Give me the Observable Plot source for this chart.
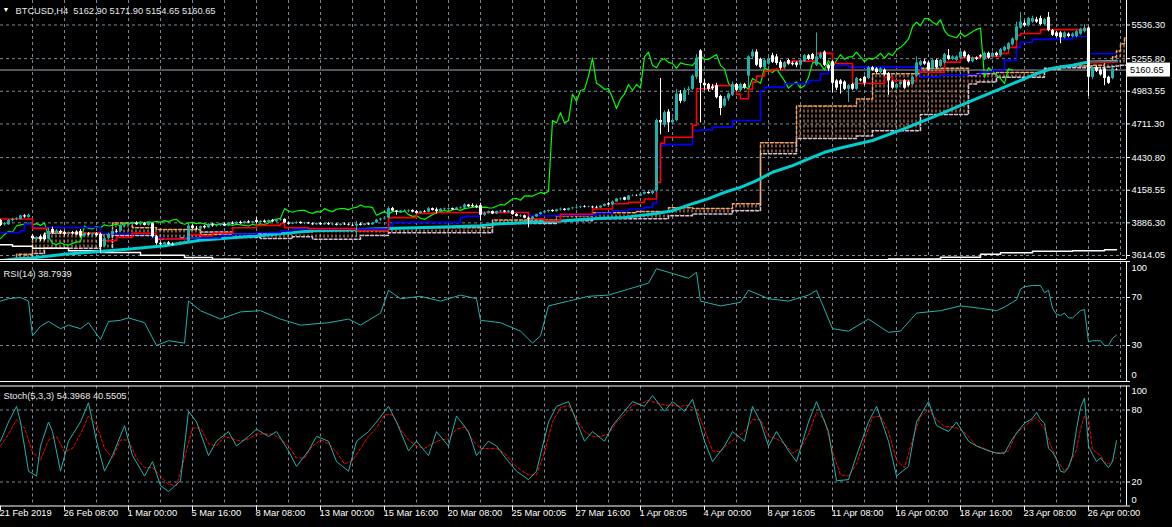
<!DOCTYPE html>
<html><head><meta charset="utf-8">
<script src="https://cdn.jsdelivr.net/npm/d3@7"></script>
<script src="https://cdn.jsdelivr.net/npm/@observablehq/plot@0.6"></script>
<style>
html,body{margin:0;padding:0;background:#000;}
#wrap{position:relative;width:1172px;height:527px;background:#000;overflow:hidden;}
#wrap>div{position:absolute;left:0;}
svg{display:block;}
</style></head><body>
<div id="wrap"><div id="main" style="top:0px"></div><div id="rsi" style="top:260px"></div><div id="sto" style="top:383px"></div></div>
<script>
// ---------- DATA ----------
const symbolTitle = "BTCUSD,H4";
const O = [3905,3870,3870,3905,3915,3915,3945,3930, 3775,3745,3770,3785,3750,3830,3795,3815, 3805,3790,3805,3810,3815,3775,3795,3785, 3795,3790,3690,3755,3790,3815,3815,3860, 3870,3875,3885,3870,3880,3865,3880,3770, 3715,3705,3720,3705,3700,3715,3725,3725, 3860,3840,3835,3855,3845,3870,3860,3865, 3875,3860,3885,3875,3890,3880,3895,3885, 3905,3890,3900,3890,3905,3895,3910,3915, 3885,3875,3885,3890,3880,3885,3878,3870, 3880,3870,3880,3870,3875,3865,3875,3870, 3865,3860,3875,3865,3878,3870,3885,3910, 3918,3925,4005,3985,3970,3985,3985,3990, 3980,3965,3980,3975,4005,3995,3980,4000, 4000,4005,3995,4010,4010,4035,4030,4025, 4030,3950,3965,3980,3960,3980,3985,3975, 3985,3955,3940,3945,3925,3915,3935,3955, 3970,3980,3990,3980,3995,4000,3990,4005, 4010,4015,4020,4015,4018,4015,4010,4025, 4045,4035,4060,4085,4095,4075,4110,4112, 4110,4125,4140,4130,4150,4740,4700,4810, 4720,4740,4960,4900,4990,5000,5100,5320, 5050,5040,5020,5030,4940,4860,4920,4950, 5040,4990,5040,5110,5270,5310,5250,5180, 5210,5280,5270,5225,5180,5240,5215,5220, 5200,5230,5280,5290,5200,5260,5310,5200, 5230,5070,5070,5060,5000,5040,5000,5080, 5100,5090,5180,5170,5140,5160,5130,5060, 5010,5040,5070,5060,5040,5110,5200,5230, 5220,5170,5240,5190,5220,5280,5250,5240, 5260,5310,5280,5230,5260,5280,5250,5300, 5270,5300,5280,5320,5330,5370,5410,5510, 5550,5530,5560,5580,5590,5540,5600,5490, 5470,5470,5430,5460,5440,5440,5460,5480, 5510,5100,5180,5160,5170,5100,5090,5162.90];
const H = [3915,3890,3915,3925,3930,3950,3955,3960, 3790,3770,3785,3800,3840,3850,3830,3825, 3815,3810,3815,3820,3830,3800,3805,3800, 3805,3800,3770,3800,3830,3830,3870,3875, 3885,3890,3895,3885,3890,3890,3885,3780, 3725,3725,3730,3720,3720,3730,3735,3880, 3870,3855,3860,3865,3880,3880,3870,3880, 3885,3890,3895,3895,3900,3900,3905,3900, 3930,3905,3910,3910,3915,3915,3925,3920, 3895,3890,3895,3895,3890,3890,3885,3885, 3890,3885,3890,3880,3880,3880,3885,3880, 3875,3900,3885,3880,3885,3890,3915,3925, 3930,4020,4015,3990,3990,3995,3995,3995, 3990,3985,3990,4015,4010,4010,4005,4010, 4010,4010,4015,4020,4045,4040,4045,4035, 4050,3975,3985,3985,3985,3990,3990,3990, 3990,3965,3955,3950,3935,3940,3960,3975, 3985,3995,3995,4000,4010,4005,4010,4015, 4020,4025,4030,4025,4025,4025,4030,4045, 4055,4070,4090,4095,4100,4115,4120,4120, 4130,4145,4145,4160,4750,5090,4820,4830, 4760,5000,4990,5010,5020,5120,5290,5330, 5080,5050,5040,5050,4950,4940,4970,5060, 5050,5050,5050,5280,5330,5330,5260,5250, 5270,5300,5290,5240,5230,5250,5230,5230, 5250,5290,5290,5300,5470,5310,5320,5210, 5240,5080,5080,5070,5040,5050,5100,5090, 5110,5190,5190,5180,5180,5170,5140,5070, 5050,5070,5080,5070,5110,5270,5240,5250, 5230,5250,5250,5250,5300,5330,5280,5280, 5330,5320,5290,5270,5270,5290,5310,5310, 5310,5310,5340,5360,5390,5430,5560,5640, 5570,5600,5610,5600,5610,5590,5640,5500, 5480,5480,5480,5470,5470,5490,5510,5540, 5520,5190,5190,5170,5180,5110,5180,5171.90];
const L = [3855,3860,3865,3895,3905,3910,3925,3925, 3740,3735,3730,3735,3745,3790,3790,3790, 3780,3780,3785,3780,3760,3770,3775,3770, 3770,3630,3680,3745,3785,3800,3810,3845, 3860,3865,3865,3860,3860,3860,3760,3700, 3695,3700,3700,3695,3695,3705,3710,3720, 3830,3825,3830,3835,3840,3850,3850,3855, 3855,3855,3870,3870,3875,3875,3880,3880, 3880,3885,3885,3885,3890,3890,3900,3880, 3870,3870,3875,3875,3870,3875,3865,3865, 3865,3865,3865,3860,3860,3860,3865,3860, 3855,3765,3860,3860,3865,3865,3880,3900, 3910,3920,3980,3950,3965,3975,3970,3970, 3960,3960,3970,3970,3985,3960,3975,3985, 3990,3990,3990,4000,4005,4015,4015,4005, 3900,3940,3960,3955,3955,3970,3970,3970, 3950,3935,3930,3920,3845,3905,3930,3950, 3960,3970,3975,3975,3985,3985,3985,3995, 4000,4005,4010,4010,4005,4005,4005,4020, 4030,4030,4055,4070,4070,4070,4105,4105, 4105,4120,4125,4120,4140,4620,4680,4640, 4700,4730,4880,4890,4950,4990,5080,4720, 4990,4980,4990,4920,4780,4850,4900,4940, 4980,4980,5000,5010,5250,5190,5170,5170, 5200,5215,5200,5160,5170,5200,5195,5180, 5190,5225,5240,5240,5190,5250,5190,5150, 4970,4990,4960,4990,4890,4990,4990,5060, 5030,5080,5150,5130,5130,5110,4950,5000, 5000,5030,5000,5020,5030,5100,5190,5200, 5150,5160,5170,5180,5210,5240,5240,5230, 5250,5260,5220,5220,5240,5260,5240,5250, 5260,5270,5270,5310,5320,5360,5400,5500, 5520,5520,5550,5550,5530,5530,5480,5440, 5430,5380,5420,5430,5430,5430,5450,5470, 4940,5080,5140,5110,5030,5040,5080,5154.65];
const C = [3865,3880,3905,3915,3920,3945,3935,3950, 3755,3765,3745,3745,3815,3800,3820,3800, 3790,3805,3795,3785,3775,3795,3785,3795, 3780,3680,3755,3790,3815,3810,3860,3870, 3875,3885,3870,3880,3865,3885,3770,3715, 3705,3720,3705,3700,3715,3725,3730,3860, 3840,3835,3855,3845,3870,3860,3865,3875, 3860,3885,3875,3890,3880,3895,3885,3895, 3890,3900,3890,3905,3895,3910,3915,3885, 3875,3885,3890,3880,3885,3878,3870,3880, 3870,3880,3870,3875,3865,3875,3870,3865, 3860,3875,3865,3878,3870,3885,3910,3918, 3925,4005,3985,3975,3985,3990,3990,3975, 3965,3980,3975,4005,3990,3980,4000,4005, 4005,3995,4010,4015,4035,4020,4020,4015, 3950,3965,3980,3960,3980,3985,3975,3985, 3955,3940,3945,3925,3915,3935,3955,3970, 3980,3990,3980,3995,4000,3990,4005,4010, 4015,4020,4015,4018,4012,4010,4025,4040, 4035,4060,4085,4090,4075,4110,4112,4110, 4125,4140,4130,4150,4740,4720,4805,4720, 4740,4960,4900,4990,5000,5110,5260,5050, 5030,5000,5005,4930,4840,4920,4960,5040, 4990,5040,5010,5270,5310,5200,5180,5240, 5255,5225,5215,5175,5220,5210,5205,5200, 5240,5280,5250,5250,5270,5290,5200,5170, 5050,5010,5040,5000,5030,5000,5090,5070, 5050,5180,5160,5140,5170,5120,5070,5010, 5040,5060,5010,5030,5100,5220,5230,5210, 5160,5240,5180,5240,5290,5250,5270,5270, 5310,5270,5230,5260,5250,5270,5300,5260, 5300,5280,5330,5350,5380,5420,5520,5560, 5530,5590,5590,5560,5540,5580,5490,5450, 5440,5430,5470,5440,5460,5480,5500,5510, 5100,5180,5150,5120,5090,5050,5170,5160.65];

// Ichimoku lines: [bar, value]
const tenkan = [[0,3918],[8,3840],[12,3812],[16,3800],[25,3738],[29,3765],[33,3800],[39,3752],[47,3788],[50,3778],[53,3800],[58,3845],[64,3865],[70,3880],[71,3845],[77,3838],[89,3822],[97,3930],[104,3965],[108,3973],[132,3920],[136,3905],[140,3958],[148,4002],[153,4045],[157,4057],[161,4085],[164,4224],[165,4550],[166,4600],[173,4700],[174,5005],[178,5031],[184,4960],[185,4921],[187,5000],[188,5060],[189,5110],[191,5150],[193,5165],[196,5225],[198,5235],[204,5300],[208,5215],[213,5048],[221,5100],[223,5074],[229,5143],[236,5227],[240,5263],[245,5275],[250,5300],[252,5350],[254,5450],[255,5466],[260,5498],[272,5227],[279,5227]];
const kijun = [[0,3806],[5,3820],[6,3876],[8,3848],[25,3795],[38,3760],[41,3750],[46,3760],[55,3780],[58,3792],[64,3806],[70,3820],[73,3834],[97,3862],[98,3890],[115,3932],[116,3940],[120,3965],[121,3973],[132,3946],[139,3950],[149,3965],[153,3987],[157,4002],[161,4015],[163,4050],[164,4350],[165,4531],[166,4539],[173,4656],[175,4662],[178,4684],[183,4740],[190,4990],[191,5018],[196,5046],[202,5074],[205,5130],[207,5186],[209,5200],[212,5185],[230,5102],[235,5116],[241,5124],[245,5143],[248,5158],[251,5241],[254,5350],[255,5392],[258,5416],[268,5441],[272,5297],[279,5297]];
const cloudBar = [0,4,8,11,25,28,33,39,45,50,58,65,73,78,90,97,123,139,148,159,167,173,183,190,199,214,218,230,242,244,249,261,265,273,276,278,279,280,281,282];
const spanA = [3570,3625,3760,3800,3790,3885,3845,3830,3830,3790,3795,3795,3810,3820,3820,3845,3910,3946,3970,3980,4013,4005,4046,4555,4860,4920,5130,5175,5115,5130,5140,5165,5195,5200,5230,5270,5320,5380,5430,5470];
const spanB = [3540,3560,3630,3675,3650,3780,3780,3750,3760,3810,3765,3755,3770,3750,3780,3803,3880,3904,3920,3920,3946,3960,3987,4463,4590,4610,4655,4790,5045,5060,5100,5175,5180,5180,5185,5190,5195,5200,5200,5200];
const chikouShift = 26;
// moving averages: [bar, value]
const maCyan = [[0,3570],[4,3586],[8,3594],[16,3624],[24,3645],[33,3670],[41,3695],[46,3720],[50,3741],[58,3762],[66,3783],[74,3808],[78,3820],[86,3826],[97,3840],[106,3848],[115,3856],[120,3862],[124,3876],[128,3884],[136,3895],[141,3904],[148,3920],[156,3932],[164,3965],[168,3987],[173,4046],[177,4088],[181,4140],[185,4182],[189,4238],[193,4308],[198,4364],[202,4420],[206,4475],[210,4510],[218,4573],[226,4672],[234,4781],[243,4907],[251,5018],[259,5130],[263,5175],[268,5200],[272,5227],[279,5235]];
const maWhite = [[0,3703],[3,3692],[8,3675],[17,3653],[25,3639],[35,3617],[46,3597],[53,3582],[60,3570],[215,3570],[222,3585],[235,3600],[245,3625],[250,3636],[258,3649],[268,3653],[276,3661],[279,3661]];
// oscillators: [bar, value]
const rsi = [[0,67],[2,69],[5,70],[7,67],[8,38],[10,46],[12,50],[15,44],[17,47],[20,44],[22,49],[25,35],[27,50],[30,51],[32,53],[36,49],[39,30],[42,34],[46,32],[47,67],[50,59],[55,52],[60,58],[65,59],[70,52],[75,47],[82,49],[87,52],[90,47],[95,57],[97,76],[100,69],[105,71],[110,67],[115,72],[119,69],[120,51],[125,49],[130,42],[133,32],[135,38],[137,63],[142,67],[147,71],[152,72],[157,77],[162,82],[164,94],[167,91],[172,86],[174,91],[175,67],[180,63],[185,66],[187,76],[192,69],[197,67],[202,72],[204,76],[208,44],[212,42],[217,52],[222,41],[225,42],[229,57],[235,59],[240,63],[245,61],[249,59],[251,62],[253,66],[254,68],[255,77],[256,79],[258,80],[260,80],[261,74],[262,76],[263,61],[264,56],[265,55],[266,57],[267,53],[268,53],[269,56],[270,59],[271,60],[272,33],[273,34],[274,34],[275,34],[276,30],[277,30],[278,36],[279,38.7939]];
const stochMain = [[0,54],[2,70],[4,83],[5,70],[7,29],[9,25],[10,50],[12,70],[13,62],[15,29],[17,54],[20,70],[22,86],[24,54],[26,29],[28,42],[31,67],[33,42],[36,25],[38,37],[40,17],[42,12],[45,21],[47,79],[49,70],[52,42],[54,54],[57,62],[59,50],[62,58],[64,64],[67,58],[69,62],[72,46],[74,33],[77,46],[79,58],[82,54],[84,37],[87,29],[89,54],[92,62],[94,70],[97,83],[99,70],[102,46],[104,54],[107,42],[109,62],[112,50],[114,75],[117,62],[119,42],[122,54],[124,50],[127,37],[129,29],[132,22],[134,29],[137,70],[139,83],[142,87],[143,79],[146,54],[148,62],[151,54],[153,67],[156,79],[158,87],[161,83],[163,92],[166,79],[168,87],[171,79],[173,89],[176,54],[178,37],[181,50],[183,62],[186,54],[188,83],[190,70],[192,50],[194,62],[197,46],[199,37],[202,70],[204,87],[207,62],[209,21],[212,22],[214,42],[217,70],[219,83],[222,54],[224,25],[227,33],[229,70],[232,87],[234,67],[237,62],[239,70],[242,54],[244,50],[247,46],[249,44],[251,44],[253,56],[255,65],[256,69],[258,73],[259,78],[260,72],[261,69],[262,48],[263,45],[264,39],[265,29],[266,28],[267,32],[268,42],[269,64],[270,82],[271,90],[272,50],[273,43],[274,37],[275,40],[276,36],[277,32],[278,37],[279,54.3968]];
const stochSignal = [[0,50],[2,60],[4,72],[6,65],[8,45],[10,38],[12,55],[14,58],[16,45],[18,48],[20,60],[22,75],[24,68],[26,48],[28,40],[30,55],[32,55],[34,40],[36,32],[38,32],[40,25],[42,18],[44,17],[46,40],[48,65],[50,65],[52,52],[54,50],[56,58],[58,56],[60,54],[62,56],[64,60],[66,60],[68,60],[70,56],[72,50],[74,40],[76,40],[78,50],[80,55],[82,52],[84,45],[86,35],[88,38],[90,48],[92,58],[94,65],[96,76],[98,76],[100,64],[102,55],[104,50],[106,48],[108,52],[110,55],[112,56],[114,64],[116,66],[118,55],[120,48],[122,48],[124,48],[126,44],[128,36],[130,30],[132,26],[134,26],[136,45],[138,70],[140,82],[142,84],[144,72],[146,62],[148,58],[150,58],[152,60],[154,70],[156,76],[158,84],[160,85],[162,88],[164,86],[166,84],[168,84],[170,83],[172,84],[174,80],[176,64],[178,46],[180,45],[182,52],[184,57],[186,62],[188,72],[190,72],[192,58],[194,56],[196,52],[198,44],[200,48],[202,60],[204,78],[206,72],[208,45],[210,26],[212,25],[214,35],[216,55],[218,74],[220,75],[222,62],[224,38],[226,32],[228,55],[230,75],[232,80],[234,72],[236,66],[238,66],[240,64],[242,58],[244,50],[246,48],[248,45],[250,44],[252,46],[254,61],[257,69],[259,74],[261,64],[263,47],[264,39],[266,29],[267,33],[269,47],[270,64],[271,75],[272,72],[273,47],[275,42],[276,36],[277,35],[278,38],[279,40.5505]];
// axis labels
const priceTicks = [5536.30, 5255.80, 4983.55, 4711.30, 4430.80, 4158.55, 3886.30, 3614.05];
const rsiLevels = [70, 30];
const rsiTickLabels = ["100", "70", "30", "0"];
const stochLevels = [80, 20];
const stochTickLabels = ["100", "80", "20", "0"];
const timeLabels = ["21 Feb 2019","26 Feb 08:00","1 Mar 00:00","5 Mar 16:00","8 Mar 08:00","13 Mar 00:00","15 Mar 16:00","20 Mar 08:00","25 Mar 00:05","27 Mar 16:00","1 Apr 08:05","4 Apr 00:00","8 Apr 16:05","11 Apr 08:00","16 Apr 00:00","18 Apr 16:00","23 Apr 08:00","26 Apr 00:00"];
const barsPerLabel = 16;

// ---------- DRAWING ----------
const FONT = "'Liberation Sans', Arial, sans-serif";
const XMIN = 0, XMAX = 281.5;
const TEAL = "#20B2AA", GRID = "#778899", WHITE = "#FFFFFF";
const style = {background: "transparent", color: WHITE, fontFamily: FONT, fontSize: "9.3px", overflow: "visible"};
const dash = "3,3";
const gridBars = d3.range(8, 281, 8);
const labelBars = timeLabels.map((d, i) => i * barsPerLabel);
const pairs = arr => arr.map(([bar, v]) => ({bar, v}));

const n = C.length;
const candles = C.map((c, i) => ({i, o: O[i], h: H[i], l: L[i], c, up: c >= O[i]}));
const cloud = cloudBar.map((b, k) => ({bar: b, a: spanA[k], b: spanB[k]}));
const chikou = C.slice(chikouShift).map((v, i) => ({bar: i, v}));
const last = candles[n - 1];
const fmt = v => v.toFixed(2);

const mainPlot = Plot.plot({
  width: 1172, height: 260, marginTop: 0, marginBottom: 1, marginLeft: 0, marginRight: 46,
  x: {domain: [XMIN, XMAX], axis: null},
  y: {domain: [3580.7, 5740.6], axis: null},
  style,
  marks: [
    Plot.ruleY(priceTicks, {stroke: GRID, strokeDasharray: dash}),
    Plot.ruleX(gridBars, {stroke: GRID, strokeDasharray: dash}),
    Plot.areaY(cloud, {x: "bar", y1: "b", y2: "a", curve: "step-after", fill: "url(#hatchSandy)", shapeRendering: "crispEdges", clip: true}),
    Plot.line(cloud, {x: "bar", y: "b", curve: "step-after", stroke: "#D8BFD8", strokeDasharray: "3,2", clip: true}),
    Plot.line(cloud, {x: "bar", y: "a", curve: "step-after", stroke: "#F4A460", strokeDasharray: "3,2", clip: true}),
    Plot.line(pairs(maWhite), {x: "bar", y: "v", curve: "step-after", stroke: WHITE, strokeWidth: 1.5, clip: true}),
    Plot.ruleY([last.c], {stroke: "#A0A8B0"}),
    Plot.line(pairs(maCyan), {x: "bar", y: "v", stroke: "#00CED1", strokeWidth: 3, clip: true}),
    Plot.line(chikou, {x: "bar", y: "v", stroke: "#00FF00", strokeWidth: 1.2, clip: true}),
    Plot.line(pairs(kijun), {x: "bar", y: "v", curve: "step-after", stroke: "#0000FF", strokeWidth: 1.6, clip: true}),
    Plot.line(pairs(tenkan), {x: "bar", y: "v", curve: "step-after", stroke: "#FF0000", strokeWidth: 1.6, clip: true}),
    Plot.ruleX(candles, {x: "i", y1: "l", y2: "h", stroke: d => d.up ? TEAL : WHITE, strokeWidth: 1}),
    Plot.ruleX(candles, {x: "i", y1: "o", y2: "c", stroke: d => d.up ? TEAL : WHITE, strokeWidth: 3}),
    Plot.ruleY([3580.7], {stroke: WHITE}),
    Plot.ruleX([XMAX], {stroke: WHITE}),
    Plot.ruleY(priceTicks, {x1: XMAX, x2: XMAX + 1, stroke: WHITE}),
    Plot.text(priceTicks, {x: XMAX, y: d => d, text: fmt, dx: 5, textAnchor: "start", fill: WHITE}),
    Plot.text(["\u25BC"], {frameAnchor: "top-left", dx: 2, dy: 7, fontSize: 7, fill: WHITE}),
    Plot.text([`${symbolTitle}\u00a0\u00a0${fmt(last.o)} ${fmt(last.h)} ${fmt(last.l)} ${fmt(last.c)}`], {frameAnchor: "top-left", dx: 15, dy: 7, fill: "#E8E8E8"})
  ]
});
{
  const svg = d3.select(mainPlot);
  const defs = svg.insert("defs", ":first-child");
  const p = defs.append("pattern").attr("id", "hatchSandy").attr("patternUnits", "userSpaceOnUse")
    .attr("width", 4).attr("height", 5).attr("patternTransform", "translate(-0.5,-0.5)");
  p.append("rect").attr("x", 0).attr("y", 0).attr("width", 1).attr("height", 3).attr("fill", "#F4A460").attr("shape-rendering", "crispEdges");
  const ys = mainPlot.scale("y"), xs = mainPlot.scale("x");
  const yy = ys.apply(last.c), xx = xs.apply(XMAX);
  svg.append("rect").attr("x", xx + 1).attr("y", yy - 7).attr("width", 43).attr("height", 14).attr("fill", WHITE);
  svg.append("text").attr("x", xx + 4).attr("y", yy + 3.5).attr("text-anchor", "start").attr("fill", "#000")
    .attr("font-family", FONT).attr("font-size", "9.3px").text(fmt(last.c));
}
document.getElementById("main").appendChild(mainPlot);

const rsiPlot = Plot.plot({
  width: 1172, height: 122, marginTop: 1, marginBottom: 1, marginLeft: 0, marginRight: 46,
  x: {domain: [XMIN, XMAX], axis: null},
  y: {domain: [0, 100], axis: null},
  style,
  marks: [
    Plot.ruleY(rsiLevels, {stroke: GRID, strokeDasharray: dash}),
    Plot.ruleX(gridBars, {stroke: GRID, strokeDasharray: dash}),
    Plot.line(pairs(rsi), {x: "bar", y: "v", stroke: TEAL, strokeWidth: 1}),
    Plot.ruleY([0, 100], {stroke: WHITE}),
    Plot.ruleX([XMAX], {stroke: WHITE}),
    Plot.ruleY([100, 70, 30, 0], {x1: XMAX, x2: XMAX + 1, stroke: WHITE}),
    Plot.text([rsiTickLabels[0]], {x: XMAX, y: 100, dx: 5, dy: 6.5, textAnchor: "start", fill: WHITE}),
    Plot.text([rsiTickLabels[1], rsiTickLabels[2]], {x: XMAX, y: (d, i) => rsiLevels[i], dx: 5, textAnchor: "start", fill: WHITE}),
    Plot.text([rsiTickLabels[3]], {x: XMAX, y: 0, dx: 5, dy: -6, textAnchor: "start", fill: WHITE}),
    Plot.text([`RSI(14) ${rsi[rsi.length - 1][1].toFixed(4)}`], {frameAnchor: "top-left", dx: 3, dy: 9, fill: "#E8E8E8"})
  ]
});
document.getElementById("rsi").appendChild(rsiPlot);

const stoPlot = Plot.plot({
  width: 1172, height: 144, marginTop: 2.5, marginBottom: 21.5, marginLeft: 0, marginRight: 46,
  x: {domain: [XMIN, XMAX], axis: null},
  y: {domain: [0, 100], axis: null},
  style,
  marks: [
    Plot.ruleY(stochLevels, {stroke: GRID, strokeDasharray: dash}),
    Plot.ruleX(gridBars, {stroke: GRID, strokeDasharray: dash}),
    Plot.line(pairs(stochSignal), {x: "bar", y: "v", stroke: "#FF0000", strokeDasharray: "3,2", strokeWidth: 1}),
    Plot.line(pairs(stochMain), {x: "bar", y: "v", stroke: TEAL, strokeWidth: 1}),
    Plot.ruleY([0, 100], {stroke: WHITE}),
    Plot.ruleX([XMAX], {stroke: WHITE}),
    Plot.ruleY([100, 80, 20, 0], {x1: XMAX, x2: XMAX + 1, stroke: WHITE}),
    Plot.text([stochTickLabels[0]], {x: XMAX, y: 100, dx: 5, dy: 5, textAnchor: "start", fill: WHITE}),
    Plot.text([stochTickLabels[1], stochTickLabels[2]], {x: XMAX, y: (d, i) => stochLevels[i], dx: 5, textAnchor: "start", fill: WHITE}),
    Plot.text([stochTickLabels[3]], {x: XMAX, y: 0, dx: 5, dy: -5.5, textAnchor: "start", fill: WHITE}),
    Plot.ruleX(labelBars, {y1: 0, y2: -4, stroke: WHITE}),
    Plot.text(timeLabels, {x: (d, i) => labelBars[i], text: d => d, frameAnchor: "bottom", dy: 10, dx: -1, textAnchor: "start", fill: WHITE}),
    Plot.text([`Stoch(5,3,3) ${stochMain[stochMain.length - 1][1].toFixed(4)} ${stochSignal[stochSignal.length - 1][1].toFixed(4)}`], {frameAnchor: "top-left", dx: 3, dy: 6.5, fill: "#E8E8E8"})
  ]
});
document.getElementById("sto").appendChild(stoPlot);
</script>
</body></html>
